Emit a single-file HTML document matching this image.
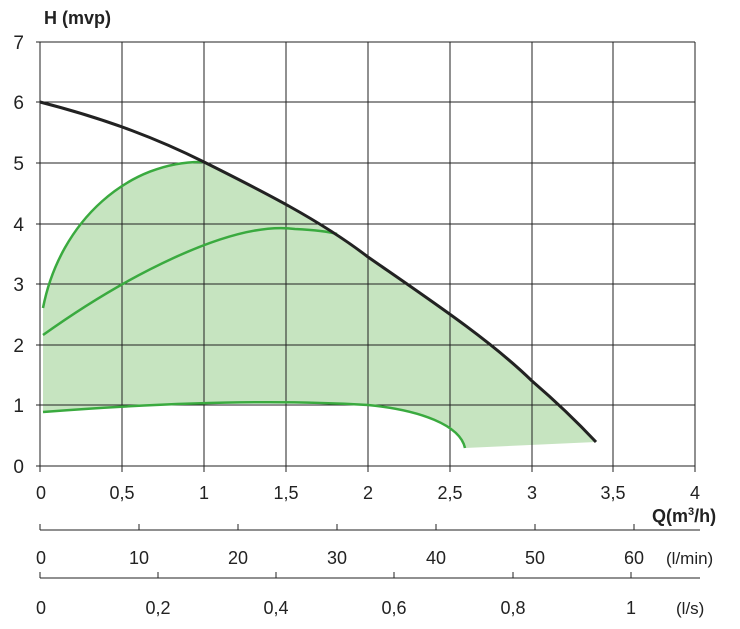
<!DOCTYPE html>
<html><head><style>body{margin:0;background:#fff}svg{display:block}text{font-family:"Liberation Sans",Arial,sans-serif;fill:#222}</style></head>
<body>
<svg width="740" height="629" viewBox="0 0 740 629">
<path d="M43,412 C120,406 250,398 368,405 C420,410 460,425 465,448 L596,442 C580,425 560,405 532,381 C490,340 430,300 368,257 C320,220 260,190 204,162 C130,160 60,220 43,308 Z" fill="#c6e4c0"/>
<g stroke="#222" stroke-width="1">
<path d="M40,42H695M40,102H695M40,163H695M40,224H695M40,284H695M40,345H695M40,405H695M40,466H695"/>
<path d="M40,42V472M122,42V472M204,42V472M286,42V472M368,42V472M450,42V472M532,42V472M613,42V472M695,42V472M36,42H40M36,102H40M36,163H40M36,224H40M36,284H40M36,345H40M36,405H40M36,466H40"/>
<path d="M40,530H700M40,524V530M139,524V530M238,524V530M337,524V530M436,524V530M535,524V530M634,524V530"/>
<path d="M40,578H700M40,572V578M158,572V578M276,572V578M394,572V578M513,572V578M631,572V578"/>
</g>
<g fill="none" stroke="#3aaa3f" stroke-width="2.5">
<path d="M43,308 C60,220 130,160 204,162"/>
<path d="M43,335 C120,280 230,220 295,229 C315,230 330,232 337,234"/>
<path d="M43,412 C120,406 250,398 368,405 C420,410 460,425 465,448"/>
</g>
<path d="M40,102 C110,120 160,140 204,162 C260,190 320,220 368,257 C430,300 490,340 532,381 C560,405 580,425 596,442" fill="none" stroke="#222" stroke-width="3"/>
<g font-size="19" text-anchor="end">
<text x="24" y="49">7</text><text x="24" y="109">6</text><text x="24" y="170">5</text><text x="24" y="231">4</text><text x="24" y="291">3</text><text x="24" y="352">2</text><text x="24" y="412">1</text><text x="24" y="473">0</text></g>
<text x="44" y="24" font-size="18" font-weight="bold">H  (mvp)</text>
<g font-size="18" text-anchor="middle">
<text x="41" y="499">0</text><text x="122" y="499">0,5</text><text x="204" y="499">1</text><text x="286" y="499">1,5</text><text x="368" y="499">2</text><text x="450" y="499">2,5</text><text x="532" y="499">3</text><text x="613" y="499">3,5</text><text x="695" y="499">4</text>
<text x="41" y="564">0</text><text x="139" y="564">10</text><text x="238" y="564">20</text><text x="337" y="564">30</text><text x="436" y="564">40</text><text x="535" y="564">50</text><text x="634" y="564">60</text>
<text x="41" y="614">0</text><text x="158" y="614">0,2</text><text x="276" y="614">0,4</text><text x="394" y="614">0,6</text><text x="513" y="614">0,8</text><text x="631" y="614">1</text></g>
<text x="652" y="522" font-size="18" font-weight="bold">Q(m<tspan font-size="11" dy="-7">3</tspan><tspan dy="7">/h)</tspan></text>
<text x="666" y="564" font-size="17">(l/min)</text>
<text x="676" y="614" font-size="17">(l/s)</text>
</svg>
</body></html>
